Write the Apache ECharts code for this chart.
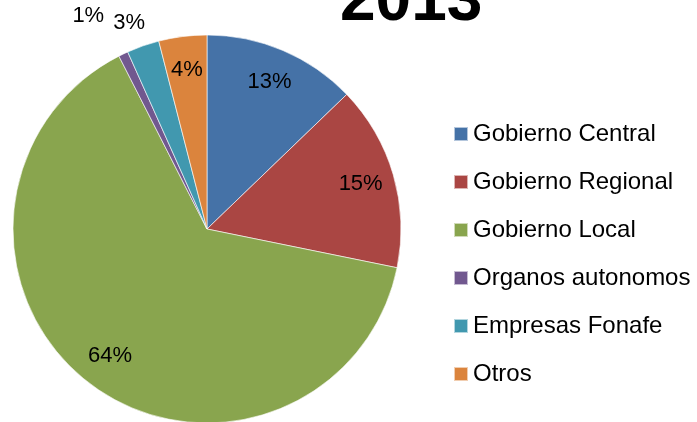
<!DOCTYPE html>
<html>
<head>
<meta charset="utf-8">
<script src="https://cdn.jsdelivr.net/npm/echarts@6/dist/echarts.min.js"></script>
<style>
  html, body { margin: 0; padding: 0; background: #fff; }
  #chart { width: 697px; height: 422px; }
</style>
</head>
<body>
<div id="chart"></div>
<script>
var titleText = '2013';
var categories = ['Gobierno Central', 'Gobierno Regional', 'Gobierno Local', 'Organos autonomos', 'Empresas Fonafe', 'Otros'];
var shares = [12.8, 15.4, 64.3, 0.8, 2.7, 4.0];
var colors = ['#4572A7', '#AA4643', '#89A54E', '#71588F', '#4198AF', '#DB843D'];

// labels of the thin slices sit outside the pie
var outerLabels = {
    3: { length: 42, length2: -4 },
    4: { length: 24, length2: -15 }
};

var font = 'Liberation Sans';
var chart = echarts.init(document.getElementById('chart'));

var sliceData = categories.map(function (name, i) {
    return { name: name, value: shares[i], itemStyle: { color: colors[i] } };
});

var labelData = categories.map(function (name, i) {
    var item = { name: name, value: shares[i] };
    if (outerLabels[i]) {
        item.label = { position: 'outside' };
        item.labelLine = { show: false, length: outerLabels[i].length, length2: outerLabels[i].length2 };
    }
    return item;
});

var option = {
    animation: false,
    title: {
        text: titleText,
        left: 340,
        top: -30,
        padding: 0,
        textStyle: { fontFamily: font, fontWeight: 'bold', fontSize: 64, lineHeight: 64, color: '#000' }
    },
    legend: {
        orient: 'vertical',
        left: 453,
        top: 122,
        padding: 0,
        itemGap: 24,
        itemWidth: 14,
        itemHeight: 14,
        icon: 'rect',
        data: categories,
        textStyle: { fontFamily: font, fontSize: 24, lineHeight: 24, color: '#000' }
    },
    series: [{
        type: 'pie',
        center: [207, 229],
        radius: 194,
        startAngle: 90,
        clockwise: true,
        label: { show: false },
        labelLine: { show: false },
        itemStyle: { borderColor: 'rgba(255,255,255,0.6)', borderWidth: 1 },
        data: sliceData
    }, {
        type: 'pie',
        center: [207, 229],
        radius: [120, 194],
        startAngle: 90,
        clockwise: true,
        silent: true,
        avoidLabelOverlap: false,
        itemStyle: { color: 'transparent' },
        label: {
            show: true,
            position: 'inside',
            distanceToLabelLine: 5,
            fontFamily: font,
            fontSize: 22,
            color: '#000',
            formatter: function (p) { return Math.round(p.percent) + '%'; }
        },
        labelLine: { show: false },
        data: labelData
    }]
};

chart.setOption(option);
</script>
</body>
</html>
